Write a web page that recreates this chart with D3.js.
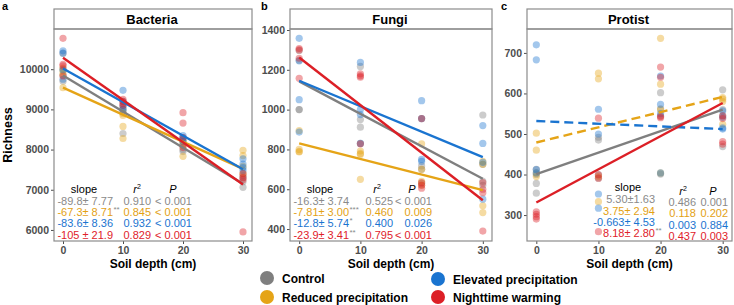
<!DOCTYPE html>
<html>
<head>
<meta charset="utf-8">
<script src="https://cdn.jsdelivr.net/npm/d3@7"></script>
<style>
  body { margin: 0; background: #fff; }
  svg { font-family: "Liberation Sans", Arial, sans-serif; }
</style>
</head>
<body>
<div id="chart"></div>
<script>
// ---- datos ----
const depths = [0, 10, 20, 30];
const xTicks = [0, 10, 20, 30];
const treatments = ["Control", "Reduced precipitation", "Elevated precipitation", "Nighttime warming"];

// puntos: [profundidad][réplica]
const bacteriaControl  = [[10392, 10000, 9850, 9700], [9000, 8400, 8950, 9050], [8100, 8000, 7950, 8150], [7060, 7300, 7200, 7350]];
const bacteriaReduced  = [[9950, 10030, 9540, 9870], [8850, 8575, 8275, 8900], [8200, 7833, 8250, 8100], [7980, 7850, 7580, 7400]];
const bacteriaElevated = [[10458, 10400, 9980, 9750], [9475, 9200, 9000, 9100], [8350, 8300, 8200, 8250], [7770, 7640, 7480, 7550]];
const bacteriaWarming  = [[10767, 10120, 10080, 9830], [9150, 9100, 9250, 9200], [8917, 8658, 8300, 8050], [5950, 7400, 7250, 7300]];
const bacteriaIntercept = [9842, 9540, 10017, 10283];
const bacteriaSlope = [-89.8, -67.3, -83.6, -105];
const bacteriaSlopeLabels = ["-89.8\u00b1 7.77", "-67.3\u00b1 8.71", "-83.6\u00b1 8.36", "-105 \u00b1 21.9"];
const bacteriaStars = ["", "**", "", ""];
const bacteriaR2 = ["0.910", "0.845", "0.932", "0.829"];
const bacteriaP = ["< 0.001", "< 0.001", "< 0.001", "< 0.001"];
const bacteriaTicks = [6000, 7000, 8000, 9000, 10000];

const fungiControl  = [[1297, 1248, 1000, 1000], [1217, 912, 950, 830], [955, 717, 700, 630], [973, 725, 620, 640]];
const fungiReduced  = [[895, 800, 787, 790], [792, 775, 650, 780], [828, 640, 620, 700], [517, 483, 725, 740]];
const fungiElevated = [[1358, 1050, 887, 1245], [1237, 975, 830, 1000], [1045, 955, 750, 740], [920, 735, 550, 830]];
const fungiWarming  = [[1307, 1258, 1157, 1300], [1180, 1163, 828, 1170], [955, 633, 620, 605], [633, 583, 390, 600]];
const fungiIntercept = [1142, 830, 1145, 1262];
const fungiSlope = [-16.3, -7.81, -12.8, -23.9];
const fungiSlopeLabels = ["-16.3\u00b1 3.74", "-7.81\u00b1 3.00", "-12.8\u00b1 5.74", "-23.9\u00b1 3.41"];
const fungiStars = ["", "***", "*", "**"];
const fungiR2 = ["0.525", "0.460", "0.400", "0.795"];
const fungiP = ["< 0.001", "0.009", "0.026", "< 0.001"];
const fungiTicks = [400, 600, 800, 1000, 1200, 1400];

const protistControl  = [[413, 378, 354, 400], [492, 485, 391, 400], [602, 562, 545, 401], [609, 469, 545, 560]];
const protistReduced  = [[502, 460, 395, 404], [650, 636, 333, 395], [736, 623, 404, 560], [586, 580, 524, 590]];
const protistElevated = [[720, 683, 404, 412], [561, 352, 317, 500], [643, 573, 550, 404], [557, 512, 541, 515]];
const protistWarming  = [[308, 302, 296, 290], [539, 399, 391, 259], [665, 640, 543, 540], [538, 481, 475, 545]];
const protistIntercept = [401, 479, 532, 331];
const protistSlope = [5.30, 3.75, -0.663, 8.18];
const protistSlopeLabels = ["5.30\u00b11.63", "3.75\u00b1 2.94", "-0.663\u00b1 4.53", "8.18\u00b1 2.80"];
const protistStars = ["", "", "", "**"];
const protistR2 = ["0.486", "0.118", "0.003", "0.437"];
const protistP = ["0.001", "0.202", "0.884", "0.003"];
const protistTicks = [300, 400, 500, 600, 700];

// ---- estilo ----
const W = 734, H = 305;
const lineColors = ["#7f7f7f", "#e5a417", "#1a74d0", "#dc1f26"];
const textColors = ["#8a8a8a", "#e3a114", "#1a74d0", "#e0212a"];
const starColor = "#8a8a8a";
const borderColor = "#8c8c8c";
const tickColor = "#4d4d4d";
const statSize = "11px";

const panels = [
  { tag: "a", tagX: 2, title: "Bacteria", left: 54, right: 252, yDomain: [5725, 11000],
    points: [bacteriaControl, bacteriaReduced, bacteriaElevated, bacteriaWarming],
    intercept: bacteriaIntercept, slope: bacteriaSlope, dashed: [false, false, false, false],
    slopeLabels: bacteriaSlopeLabels, stars: bacteriaStars, r2: bacteriaR2, p: bacteriaP, ticks: bacteriaTicks,
    stat: { slopeHead: 84, r2Head: 137, pHead: 173, headY: 193, slopeR: 113, r2R: 151, pR: 192,
            rowY: [205, 216, 227, 239], rowY2: [205, 216, 227, 239] } },
  { tag: "b", tagX: 261, title: "Fungi", left: 290, right: 492, yDomain: [340, 1405],
    points: [fungiControl, fungiReduced, fungiElevated, fungiWarming],
    intercept: fungiIntercept, slope: fungiSlope, dashed: [false, false, false, false],
    slopeLabels: fungiSlopeLabels, stars: fungiStars, r2: fungiR2, p: fungiP, ticks: fungiTicks,
    stat: { slopeHead: 320, r2Head: 377, pHead: 412, headY: 193, slopeR: 349, r2R: 393, pR: 432,
            rowY: [205, 216, 227, 239], rowY2: [205, 216, 227, 239] } },
  { tag: "c", tagX: 501, title: "Protist", left: 527, right: 732, yDomain: [236, 759],
    points: [protistControl, protistReduced, protistElevated, protistWarming],
    intercept: protistIntercept, slope: protistSlope, dashed: [false, true, true, false],
    slopeLabels: protistSlopeLabels, stars: protistStars, r2: protistR2, p: protistP, ticks: protistTicks,
    stat: { slopeHead: 628, r2Head: 683, pHead: 713, headY: 191, slopeR: 655, r2R: 696, pR: 728,
            rowY: [203, 215, 226, 237], rowY2: [206, 217, 229, 240] } }
];

const stripTop = 9, stripBottom = 29, plotBottom = 241;

const svg = d3.select("#chart").append("svg")
  .attr("width", W).attr("height", H);

// etiqueta eje y
svg.append("text")
  .attr("transform", "translate(12,135) rotate(-90)")
  .attr("text-anchor", "middle")
  .style("font-size", "12.5px").style("font-weight", "bold")
  .text("Richness");

panels.forEach(pn => {
  const g = svg.append("g");
  const x = d3.scaleLinear().domain([-1.5, 31.5]).range([pn.left, pn.right]);
  const y = d3.scaleLinear().domain(pn.yDomain).range([plotBottom, stripBottom]);

  // letra del panel
  svg.append("text").attr("x", pn.tagX).attr("y", 10)
    .style("font-size", "11px").style("font-weight", "bold").text(pn.tag);

  // tira del título
  g.append("rect").attr("x", pn.left).attr("y", stripTop)
    .attr("width", pn.right - pn.left).attr("height", stripBottom - stripTop)
    .attr("fill", "#fff").attr("stroke", borderColor).attr("stroke-width", 1.2);
  g.append("text").attr("x", (pn.left + pn.right) / 2 - 1).attr("y", 24)
    .attr("text-anchor", "middle").style("font-size", "13px").style("font-weight", "bold")
    .text(pn.title);

  // ejes
  const yAxis = g.append("g").attr("transform", `translate(${pn.left},0)`)
    .call(d3.axisLeft(y).tickValues(pn.ticks).tickFormat(d3.format("d")).tickSize(3).tickPadding(2));
  const xAxis = g.append("g").attr("transform", `translate(0,${plotBottom})`)
    .call(d3.axisBottom(x).tickValues(xTicks).tickFormat(d3.format("d")).tickSize(3).tickPadding(3));
  [yAxis, xAxis].forEach(a => {
    a.select(".domain").remove();
    a.selectAll(".tick line").attr("stroke", tickColor);
    a.selectAll(".tick text").attr("fill", tickColor)
      .style("font-size", "10.5px").style("font-weight", "bold")
      .style("font-family", '"Liberation Sans", Arial, sans-serif');
  });

  // puntos
  pn.points.forEach((series, ti) => {
    const flat = [];
    series.forEach((vals, di) => vals.forEach(v => flat.push({ d: depths[di], v })));
    g.append("g").selectAll("circle").data(flat).enter().append("circle")
      .attr("cx", d => x(d.d)).attr("cy", d => y(d.v)).attr("r", 3.6)
      .attr("fill", lineColors[ti]).attr("fill-opacity", 0.4);
  });

  // rectas de regresión
  pn.intercept.forEach((b0, ti) => {
    const ends = [0, 30].map(d => ({ d, v: b0 + pn.slope[ti] * d }));
    g.append("path").datum(ends)
      .attr("d", d3.line().x(d => x(d.d)).y(d => y(d.v)))
      .attr("stroke", lineColors[ti]).attr("stroke-width", 2.4).attr("fill", "none")
      .attr("stroke-dasharray", pn.dashed[ti] ? "9,5" : null);
  });

  // marco del panel
  g.append("rect").attr("x", pn.left).attr("y", stripBottom)
    .attr("width", pn.right - pn.left).attr("height", plotBottom - stripBottom)
    .attr("fill", "none").attr("stroke", borderColor).attr("stroke-width", 1.2);

  // tabla de estadísticos
  const s = pn.stat;
  const hOff = pn.tag === "c" ? 4 : 0;
  g.append("text").attr("x", s.slopeHead).attr("y", s.headY).attr("text-anchor", "middle")
    .style("font-size", statSize).text("slope");
  const r2h = g.append("text").attr("x", s.r2Head).attr("y", s.headY + hOff)
    .attr("text-anchor", "middle").style("font-size", statSize);
  r2h.append("tspan").style("font-style", "italic").text("r");
  r2h.append("tspan").attr("dy", -4).style("font-size", "7px").text("2");
  g.append("text").attr("x", s.pHead).attr("y", s.headY + hOff)
    .attr("text-anchor", "middle").style("font-size", statSize).style("font-style", "italic").text("P");

  pn.slopeLabels.forEach((lab, i) => {
    g.append("text").attr("x", s.slopeR).attr("y", s.rowY[i]).attr("text-anchor", "end")
      .attr("fill", textColors[i]).style("font-size", statSize).text(lab);
    if (pn.stars[i]) {
      g.append("text").attr("x", s.slopeR + 0.5).attr("y", s.rowY[i] - 4)
        .attr("fill", starColor).style("font-size", "8px").text(pn.stars[i]);
    }
    g.append("text").attr("x", s.r2R).attr("y", s.rowY2[i]).attr("text-anchor", "end")
      .attr("fill", textColors[i]).style("font-size", statSize).text(pn.r2[i]);
    g.append("text").attr("x", s.pR).attr("y", s.rowY2[i]).attr("text-anchor", "end")
      .attr("fill", textColors[i]).style("font-size", statSize).text(pn.p[i]);
  });

  // título eje x
  g.append("text").attr("x", (pn.left + pn.right) / 2).attr("y", 268)
    .attr("text-anchor", "middle").style("font-size", "12px").style("font-weight", "bold")
    .text("Soil depth (cm)");
});

// leyenda
const legendPos = [[267, 278], [267, 297], [438, 279], [438, 297]];
treatments.forEach((t, i) => {
  svg.append("circle").attr("cx", legendPos[i][0]).attr("cy", legendPos[i][1]).attr("r", 7)
    .attr("fill", lineColors[i]);
  svg.append("text").attr("x", legendPos[i][0] + 15).attr("y", legendPos[i][1] + 4.5)
    .style("font-size", "12px").style("font-weight", "bold").text(t);
});
</script>
</body>
</html>
